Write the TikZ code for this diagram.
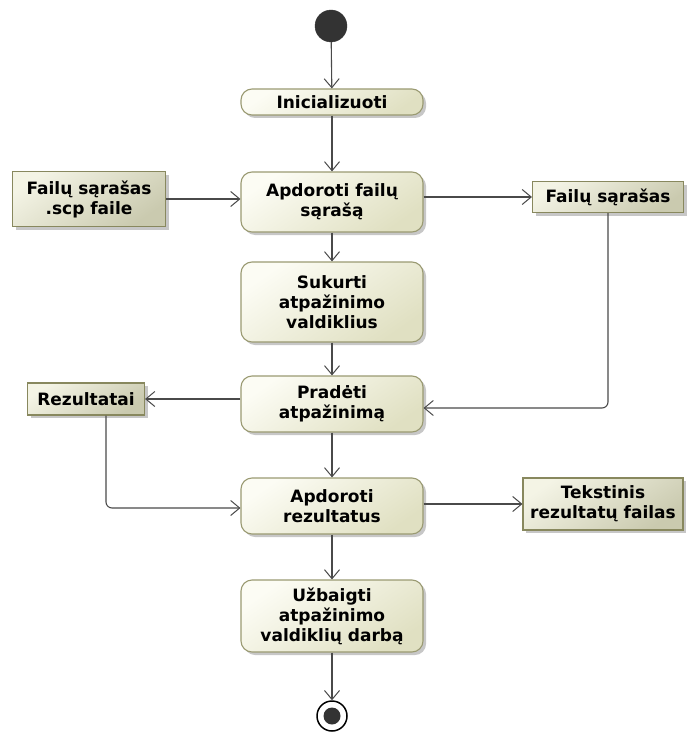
\documentclass[tikz,border=0pt]{standalone}
\usepackage{fontspec}
\setmainfont{DejaVu Sans}
\usetikzlibrary{arrows.meta,shadows}

\definecolor{edgecol}{HTML}{9A9A72}
\definecolor{objedge}{HTML}{88885E}
\definecolor{fillhi}{HTML}{FCFCF4}
\definecolor{filllo}{HTML}{E0E0C2}
\definecolor{linecol}{HTML}{4A4A4A}
\definecolor{dotcol}{HTML}{333333}

\tikzset{
  box/.style={draw=edgecol, line width=1.1pt, align=center, inner sep=0pt,
    font=\bfseries\fontsize{17}{20}\selectfont, text=black,
    top color=fillhi, bottom color=filllo, shading angle=35,
    drop shadow={shadow xshift=3pt, shadow yshift=-3pt, fill=black!40, opacity=0.55}},
  action/.style={box, rounded corners=11pt, minimum width=182pt},
  object/.style={box, draw=objedge, top color=fillhi!70!filllo, bottom color=filllo!90!black, shading angle=35},
  flow/.style={draw=linecol, line width=1.1pt, rounded corners=6pt,
    -{Straight Barb[length=9pt,width=15pt,line width=1pt]}}
}

\begin{document}
\begin{tikzpicture}[x=1pt, y=-1pt]
  \useasboundingbox (0,0) rectangle (689,733);

  % initial and final states
  \node[circle, fill=dotcol, draw=dotcol, minimum size=32pt, inner sep=0pt] (init0) at (331,26) {};
  \node[circle, fill=white, draw=black, line width=1.5pt, minimum size=30pt, inner sep=0pt] (fin) at (332,716) {};
  \node[circle, fill=dotcol, minimum size=17pt, inner sep=0pt] (findot) at (332,716) {};

  % actions
  \node[action, minimum height=26pt] (ini) at (332,102) {Inicializuoti};
  \node[action, minimum height=60pt] (proc) at (332,202) {Apdoroti failų\\sąrašą};
  \node[action, minimum height=80pt] (mk) at (332,302) {Sukurti\\atpažinimo\\valdiklius};
  \node[action, minimum height=56pt] (rec) at (332,404) {Pradėti\\atpažinimą};
  \node[action, minimum height=56pt] (res) at (332,506) {Apdoroti\\rezultatus};
  \node[action, minimum height=72pt] (fini) at (332,616) {Užbaigti\\atpažinimo\\valdiklių darbą};

  % object nodes
  \node[object, minimum width=153pt, minimum height=55pt] (scp) at (89,199) {Failų sąrašas\\.scp faile};
  \node[object, minimum width=151pt, minimum height=31pt] (list) at (608,197) {Failų sąrašas};
  \node[object, minimum width=117pt, minimum height=32pt] (out) at (86,399) {Rezultatai};
  \node[object, minimum width=160pt, minimum height=52pt] (txt) at (603,504) {Tekstinis\\rezultatų failas};

  \coordinate (listturn) at (608,408);
  \coordinate (outturn) at (106,508);

  % control flow
  \draw[flow] (init0) -- (ini);
  \draw[flow] (ini) -- (proc);
  \draw[flow] (proc) -- (mk);
  \draw[flow] (mk) -- (rec);
  \draw[flow] (rec) -- (res);
  \draw[flow] (res) -- (fini);
  \draw[flow] (fini) -- (fin);

  % object flow
  \draw[flow] (scp.east) -- (scp.east -| proc.west);
  \draw[flow] (proc.east |- list.west) -- (list.west);
  \draw[flow] (list.south) -- (listturn) -- (listturn -| rec.east);
  \draw[flow] (rec.west |- out.east) -- (out.east);
  \draw[flow] (out.south -| outturn) -- (outturn) -- (outturn -| res.west);
  \draw[flow] (res.east |- txt.west) -- (txt.west);
\end{tikzpicture}
\end{document}
